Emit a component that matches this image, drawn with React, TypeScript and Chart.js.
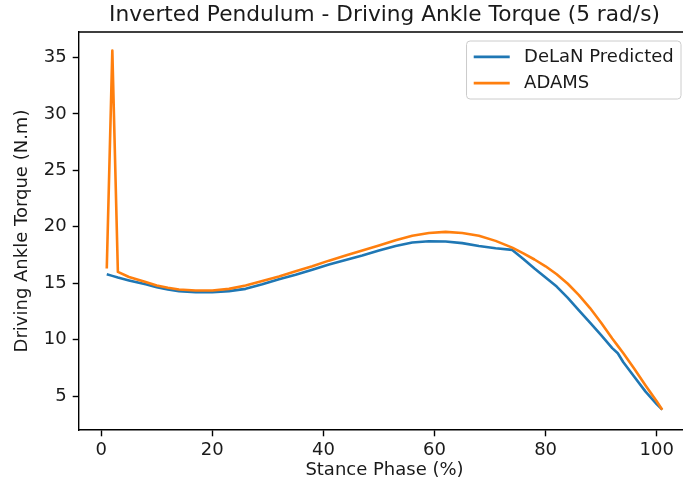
import { useEffect, useRef } from "react";
import { Chart, registerables } from "chart.js";

Chart.register(...registerables);

const TITLE = "Inverted Pendulum - Driving Ankle Torque (5 rad/s)";
const X_LABEL = "Stance Phase (%)";
const Y_LABEL = "Driving Ankle Torque (N.m)";
const SERIES_NAMES = ["DeLaN Predicted", "ADAMS"];

const phase = [1, 2, 3, 5, 8, 10, 12, 14, 17, 20, 23, 26, 29, 32, 35, 38, 41, 44, 47, 50, 53, 56, 59, 62, 65, 68, 71, 74, 76, 78, 80, 82, 84, 86, 88, 90, 92, 93, 94, 96, 98, 100, 101];

const delanTorque = [15.8, 15.65, 15.5, 15.25, 14.9, 14.65, 14.45, 14.3, 14.2, 14.2, 14.3, 14.5, 14.9, 15.35, 15.75, 16.2, 16.65, 17.05, 17.45, 17.9, 18.3, 18.6, 18.72, 18.7, 18.55, 18.3, 18.1, 17.95, 17.15, 16.3, 15.5, 14.7, 13.7, 12.6, 11.5, 10.4, 9.25, 8.8, 8.0, 6.7, 5.4, 4.3, 3.8];

const adamsTorque = [16.3, 35.6, 16.0, 15.55, 15.1, 14.8, 14.6, 14.45, 14.35, 14.35, 14.5, 14.8, 15.2, 15.6, 16.05, 16.5, 17.0, 17.45, 17.9, 18.35, 18.8, 19.2, 19.45, 19.55, 19.45, 19.2, 18.75, 18.15, 17.65, 17.1, 16.5, 15.8, 14.95, 13.95, 12.8, 11.5, 10.1, 9.45, 8.8, 7.4, 5.95, 4.55, 3.8];

const xTicks = [0, 20, 40, 60, 80, 100];
const yTicks = [5, 10, 15, 20, 25, 30, 35];

const BLUE = "#1f77b4";
const ORANGE = "#ff7f0e";
const FONT = '"DejaVu Sans", sans-serif';
const FS = 18;
const TEXT = "#1a1a1a";

const framePlugin = {
  id: "frameAndText",
  afterDraw(chart: any) {
    const { ctx, chartArea: ca } = chart;
    ctx.save();
    // top and right spines
    ctx.strokeStyle = "#000";
    ctx.lineWidth = 1.4;
    ctx.beginPath();
    ctx.moveTo(ca.left, ca.top);
    ctx.lineTo(ca.right, ca.top);
    ctx.lineTo(ca.right, ca.bottom);
    ctx.stroke();

    // title
    ctx.fillStyle = TEXT;
    ctx.font = `21.7px ${FONT}`;
    ctx.textAlign = "center";
    ctx.textBaseline = "alphabetic";
    ctx.fillText(TITLE, (ca.left + ca.right) / 2, ca.top - 11);

    // legend
    const sets = chart.data.datasets;
    const order = [1, 0];
    ctx.font = `${FS}px ${FONT}`;
    let tw = 0;
    order.forEach((i) => {
      tw = Math.max(tw, ctx.measureText(sets[i].label).width);
    });
    const pad = 0.4 * FS;
    const handle = 2 * FS;
    const htp = 0.8 * FS;
    const rowH = 17.3;
    const ls = 0.5 * FS;
    const bw = pad * 2 + handle + htp + tw;
    const bh = pad * 2 + rowH * 2 + ls;
    const bx = ca.right - 0.5 * FS - bw;
    const by = ca.top + 0.5 * FS;
    const r = 3.6;
    ctx.beginPath();
    ctx.moveTo(bx + r, by);
    ctx.lineTo(bx + bw - r, by);
    ctx.quadraticCurveTo(bx + bw, by, bx + bw, by + r);
    ctx.lineTo(bx + bw, by + bh - r);
    ctx.quadraticCurveTo(bx + bw, by + bh, bx + bw - r, by + bh);
    ctx.lineTo(bx + r, by + bh);
    ctx.quadraticCurveTo(bx, by + bh, bx, by + bh - r);
    ctx.lineTo(bx, by + r);
    ctx.quadraticCurveTo(bx, by, bx + r, by);
    ctx.closePath();
    ctx.fillStyle = "rgba(255,255,255,0.8)";
    ctx.fill();
    ctx.strokeStyle = "#cccccc";
    ctx.lineWidth = 1;
    ctx.stroke();
    order.forEach((i, row) => {
      const cy = by + pad + rowH / 2 + row * (rowH + ls);
      ctx.strokeStyle = sets[i].borderColor;
      ctx.lineWidth = 2.6;
      ctx.beginPath();
      ctx.moveTo(bx + pad, cy);
      ctx.lineTo(bx + pad + handle, cy);
      ctx.stroke();
      ctx.fillStyle = TEXT;
      ctx.textAlign = "left";
      ctx.textBaseline = "middle";
      ctx.fillText(sets[i].label, bx + pad + handle + htp, cy);
    });
    ctx.restore();
  },
};

export default function App() {
  const ref = useRef<HTMLCanvasElement | null>(null);

  useEffect(() => {
    if (!ref.current) return;
    const chart = new Chart(ref.current, {
      type: "line",
      data: {
        datasets: [
          {
            label: SERIES_NAMES[1],
            data: phase.map((x, i) => ({ x, y: adamsTorque[i] })),
            borderColor: ORANGE,
            backgroundColor: ORANGE,
            borderWidth: 2.6,
            borderJoinStyle: "round",
            pointRadius: 0,
            tension: 0,
            fill: false,
          },
          {
            label: SERIES_NAMES[0],
            data: phase.map((x, i) => ({ x, y: delanTorque[i] })),
            borderColor: BLUE,
            backgroundColor: BLUE,
            borderWidth: 2.6,
            borderJoinStyle: "round",
            pointRadius: 0,
            tension: 0,
            fill: false,
          },
        ],
      },
      options: {
        responsive: false,
        animation: false,
        devicePixelRatio: 1,
        layout: { padding: { top: 32, left: 0, right: 10, bottom: 0 } },
        plugins: {
          legend: { display: false },
          title: { display: false },
          tooltip: { enabled: false },
        },
        scales: {
          x: {
            type: "linear",
            min: -4,
            max: 106,
            afterBuildTicks: (s: any) => {
              s.ticks = xTicks.map((v) => ({ value: v }));
            },
            afterFit: (s: any) => {
              s.height = 63;
            },
            grid: {
              drawOnChartArea: false,
              drawTicks: true,
              tickLength: 6.3,
              tickColor: "#000",
              tickWidth: 1.4,
            },
            border: { display: true, color: "#000", width: 1.4 },
            ticks: {
              padding: 3,
              color: TEXT,
              font: { family: FONT, size: FS },
              maxRotation: 0,
              callback: (v: any) => String(v),
            },
            title: {
              display: true,
              text: X_LABEL,
              color: TEXT,
              font: { family: FONT, size: FS },
              padding: { top: 0, bottom: 12 },
            },
          },
          y: {
            type: "linear",
            min: 2.0,
            max: 37.25,
            afterBuildTicks: (s: any) => {
              s.ticks = yTicks.map((v) => ({ value: v }));
            },
            afterFit: (s: any) => {
              s.width = 79;
            },
            grid: {
              drawOnChartArea: false,
              drawTicks: true,
              tickLength: 6.3,
              tickColor: "#000",
              tickWidth: 1.4,
            },
            border: { display: true, color: "#000", width: 1.4 },
            ticks: {
              padding: 6,
              color: TEXT,
              font: { family: FONT, size: FS },
              callback: (v: any) => String(v),
            },
            title: {
              display: true,
              text: Y_LABEL,
              color: TEXT,
              font: { family: FONT, size: FS },
              padding: { top: 12, bottom: 0 },
            },
          },
        },
      },
      plugins: [framePlugin],
    } as any);
    return () => chart.destroy();
  }, []);

  return (
    <div
      style={{
        position: "fixed",
        left: 0,
        top: 0,
        width: 683,
        height: 493,
        overflow: "hidden",
        background: "#fff",
      }}
    >
      <canvas ref={ref} width={700} height={493} style={{ width: 700, height: 493, display: "block" }} />
    </div>
  );
}
